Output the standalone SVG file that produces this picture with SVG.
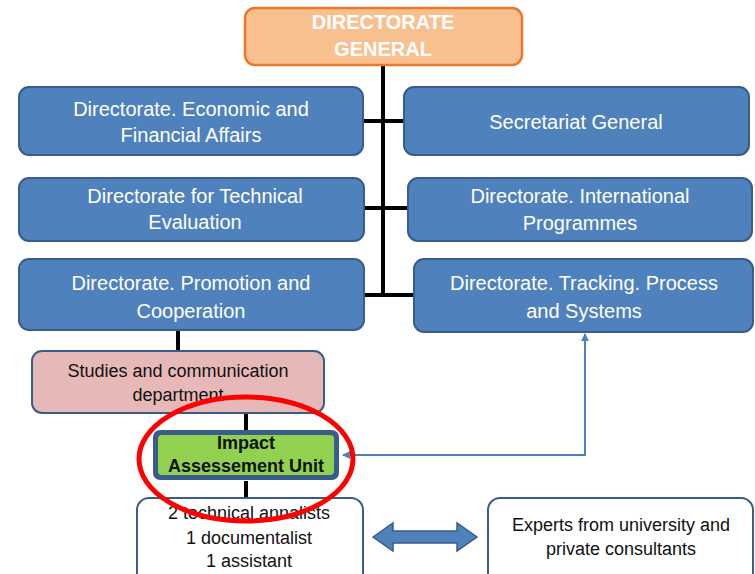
<svg xmlns="http://www.w3.org/2000/svg" width="755" height="574" viewBox="0 0 755 574">
<style>
.blue{fill:#4F81BD;stroke:#385D8A;stroke-width:2}
.wt{fill:#fff;font-family:"Liberation Sans",Arial,sans-serif;font-size:20px;text-anchor:middle}
.dk{fill:#111;font-family:"Liberation Sans",Arial,sans-serif;font-size:18px;text-anchor:middle}
.conn{stroke:#000;stroke-width:4;fill:none}
</style>
<defs>
<marker id="ah" markerWidth="8" markerHeight="8" refX="7" refY="4" orient="auto-start-reverse" markerUnits="userSpaceOnUse">
<path d="M0,0 L8,4 L0,8 Z" fill="#4F81BD"/>
</marker>
</defs>
<rect width="755" height="574" fill="#fff"/>
<g id="connectors">
<line class="conn" x1="383" y1="65" x2="383" y2="297"/>
<line class="conn" x1="363" y1="121" x2="404" y2="121"/>
<line class="conn" x1="363" y1="208" x2="408" y2="208"/>
<line class="conn" x1="363" y1="295" x2="413" y2="295"/>
<line class="conn" x1="178" y1="331" x2="178" y2="351"/>
<line class="conn" x1="246" y1="413" x2="246" y2="430"/>
<line class="conn" x1="246" y1="481" x2="246" y2="498"/>
<polyline points="343,455 585,455 585,334" fill="none" stroke="#4F81BD" stroke-width="2" marker-start="url(#ah)" marker-end="url(#ah)"/>
<polygon points="373,537 393,523 393,531 457,531 457,523 477,537 457,551 457,543 393,543 393,551" fill="#4F81BD" stroke="#385D8A" stroke-width="1.5"/>
</g>
<g id="dg">
<rect x="245" y="8" width="277" height="57" rx="10" fill="#F9C08F" stroke="#E9782A" stroke-width="2.5"/>
<text class="wt" x="383" y="29" font-weight="bold" font-size="18">DIRECTORATE</text>
<text class="wt" x="383" y="56" font-weight="bold" font-size="18">GENERAL</text>
</g>
<g id="econ">
<rect class="blue" x="19" y="87" width="344" height="68" rx="10"/>
<text class="wt" x="191" y="116">Directorate. Economic and</text>
<text class="wt" x="191" y="142">Financial Affairs</text>
</g>
<g id="secr">
<rect class="blue" x="404" y="87" width="345" height="68" rx="10"/>
<text class="wt" x="576" y="129">Secretariat General</text>
</g>
<g id="tech">
<rect class="blue" x="19" y="178" width="345" height="63" rx="10"/>
<text class="wt" x="195" y="203">Directorate for Technical</text>
<text class="wt" x="195" y="229">Evaluation</text>
</g>
<g id="intl">
<rect class="blue" x="408" y="178" width="344" height="63" rx="10"/>
<text class="wt" x="580" y="203">Directorate. International</text>
<text class="wt" x="580" y="230">Programmes</text>
</g>
<g id="promo">
<rect class="blue" x="19" y="259" width="345" height="71" rx="10"/>
<text class="wt" x="191" y="290">Directorate. Promotion and</text>
<text class="wt" x="191" y="318">Cooperation</text>
</g>
<g id="track">
<rect class="blue" x="414" y="259" width="339" height="73" rx="10"/>
<text class="wt" x="584" y="290">Directorate. Tracking. Process</text>
<text class="wt" x="584" y="318">and Systems</text>
</g>
<g id="studies">
<rect x="32" y="351" width="292" height="62" rx="10" fill="#E6B9B8" stroke="#385D8A" stroke-width="2"/>
<text class="dk" x="178" y="377">Studies and communication</text>
<text class="dk" x="178" y="401">department</text>
</g>
<g id="impact">
<rect x="153" y="430" width="186" height="50" rx="7" fill="#385D8A"/>
<rect x="158" y="435" width="176" height="40" rx="4" fill="#92D050"/>
<text class="dk" x="246" y="449" font-weight="bold" font-size="17">Impact</text>
<text class="dk" x="246" y="472" font-weight="bold" font-size="17">Assessement Unit</text>
</g>
<g id="team">
<rect x="137" y="498" width="226" height="90" rx="12" fill="#fff" stroke="#385D8A" stroke-width="2"/>
<text class="dk" x="249" y="519">2 technical annalists</text>
<text class="dk" x="249" y="544">1 documentalist</text>
<text class="dk" x="249" y="567">1 assistant</text>
</g>
<g id="experts">
<rect x="488" y="498" width="265" height="90" rx="12" fill="#fff" stroke="#385D8A" stroke-width="2"/>
<text class="dk" x="621" y="531">Experts from university and</text>
<text class="dk" x="621" y="555">private consultants</text>
</g>
<g id="highlight">
<ellipse cx="246" cy="459" rx="107" ry="62" fill="none" stroke="#F00" stroke-width="5"/>
</g>
</svg>
